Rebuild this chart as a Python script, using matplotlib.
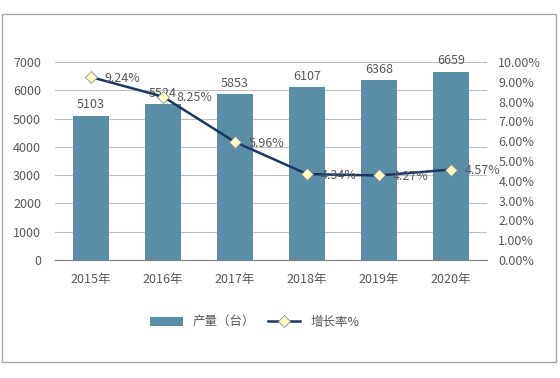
import matplotlib
matplotlib.use("Agg")
import matplotlib.pyplot as plt
from matplotlib.patches import Rectangle
from matplotlib.ticker import FuncFormatter

plt.rcParams["font.family"] = ["Noto Sans CJK SC", "DejaVu Sans"]

years = ["2015年", "2016年", "2017年", "2018年", "2019年", "2020年"]
output = [5103, 5524, 5853, 6107, 6368, 6659]
growth = [9.24, 8.25, 5.96, 4.34, 4.27, 4.57]

BAR_COLOR = "#5a8ea7"
LINE_COLOR = "#1b3768"
TEXT_COLOR = "#595959"

fig = plt.figure(figsize=(5.6, 3.78), dpi=100)
ax = fig.add_axes([0.098, 0.312, 0.772, 0.524])
ax2 = ax.twinx()

x = range(len(years))
ax.bar(x, output, width=0.5, color=BAR_COLOR, zorder=2, label="产量（台）")
for xi, v in zip(x, output):
    ax.text(xi, v + 150, f"{v}", ha="center", va="bottom", fontsize=9, color=TEXT_COLOR)

ax2.plot(x, growth, color=LINE_COLOR, linewidth=1.8, marker="D", markersize=6.5,
         markerfacecolor="#fdfdc4", markeredgecolor="#8c8c8c", markeredgewidth=0.6,
         zorder=3, label="增长率%")
for xi, g in zip(x, growth):
    ax2.text(xi + 0.19, g - 0.05, f"{g:.2f}%", ha="left", va="center", fontsize=9,
             color=TEXT_COLOR)

ax.set_xlim(-0.5, len(years) - 0.5)
ax.set_ylim(0, 7000)
ax.set_yticks(range(0, 7001, 1000))
ax2.set_ylim(0, 10)
ax2.set_yticks(range(0, 11))
ax2.yaxis.set_major_formatter(FuncFormatter(lambda v, _: f"{v:.2f}%"))

ax.set_xticks(list(x))
ax.set_xticklabels(years)
ax.grid(axis="y", color="#bfbfbf", linewidth=0.8, zorder=0)
ax.set_axisbelow(True)

for a in (ax, ax2):
    for side in ("top", "left", "right", "bottom"):
        a.spines[side].set_visible(False)
    a.tick_params(length=0, labelsize=9, colors=TEXT_COLOR)
ax.spines["bottom"].set_visible(True)
ax.spines["bottom"].set_color("#7f7f7f")
ax.tick_params(axis="x", pad=9)
ax.tick_params(axis="y", pad=10)
ax2.tick_params(axis="y", pad=8)

h1, l1 = ax.get_legend_handles_labels()
h2, l2 = ax2.get_legend_handles_labels()
fig.legend(h1 + h2, l1 + l2, loc="center", bbox_to_anchor=(0.455, 0.148), ncol=2,
           frameon=False, fontsize=9, handlelength=2.6, columnspacing=1.0,
           labelcolor=TEXT_COLOR)

fig.patches.append(Rectangle((0.0036, 0.042), 0.989, 0.921, transform=fig.transFigure,
                             fill=False, edgecolor="#a6a6a6", linewidth=1.0))

fig.savefig("out.png", dpi=100)
